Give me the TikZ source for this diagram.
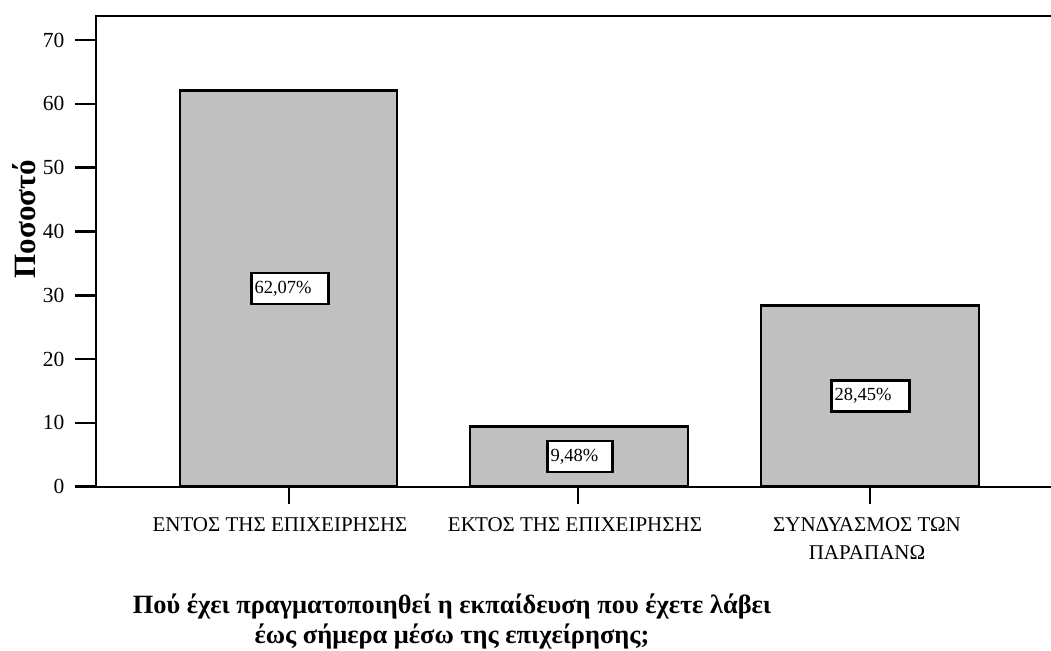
\documentclass[tikz,border=0pt]{standalone}
\usepackage{fontspec}
\setmainfont{Liberation Serif}
\begin{document}
\begin{tikzpicture}[x=1pt,y=-1pt,
  axisline/.style={line width=1.6pt},
  tickline/.style={line width=2.6pt},
  barbox/.style={draw=black,fill=barfill,line width=2.6pt},
  pctbox/.style={draw=black,fill=white,line width=2.6pt,inner xsep=3pt,inner ysep=0pt,align=left,minimum height=31pt,font=\fontsize{18.5}{20}\selectfont},
  ticklab/.style={anchor=east,font=\fontsize{21.5}{24}\selectfont},
  catlab/.style={anchor=base,font=\fontsize{21}{28}\selectfont},
  titlelab/.style={anchor=base,font=\bfseries\fontsize{26.4}{30}\selectfont}]
\definecolor{barfill}{RGB}{192,192,192}
\useasboundingbox (0,0) rectangle (1051,650);
% bars
\draw[barbox] (180,486.7) rectangle (397,90.6);
\draw[barbox] (470,486.7) rectangle (688,426.2);
\draw[barbox] (761,486.7) rectangle (979,305.2);
% frame
\coordinate (tl) at (96,16);
\coordinate (tr) at (1051,16);
\coordinate (bl) at (96,486.7);
\coordinate (br) at (1051,486.7);
\draw[axisline] (tr) -- (tl) -- (bl) -- (br);
% y ticks
\foreach \v in {0,10,...,70}{
  \coordinate (yt\v) at (96,{486.7-6.381*\v});
  \coordinate (ytl\v) at (75,{486.7-6.381*\v});
  \draw[tickline] (ytl\v) -- (yt\v);
  \node[ticklab] (ylab\v) at (68,{486.7-6.381*\v}) {\v};
}
% x ticks
\foreach \x/\n in {289/a,578/b,870/c}{
  \coordinate (xt\n) at (\x,486.7);
  \coordinate (xb\n) at (\x,504);
  \draw[tickline] (xt\n) -- (xb\n);
}
% value labels
\node[pctbox,text width=71pt] (p1) at (290,288.5) {62,07\%};
\node[pctbox,text width=59pt] (p2) at (580,456.5) {9,48\%};
\node[pctbox,text width=72pt] (p3) at (870.5,396) {28,45\%};
% category labels
\node[catlab] (c1) at (280,531) {ΕΝΤΟΣ ΤΗΣ ΕΠΙΧΕΙΡΗΣΗΣ};
\node[catlab] (c2) at (575,531) {ΕΚΤΟΣ ΤΗΣ ΕΠΙΧΕΙΡΗΣΗΣ};
\node[catlab] (c3) at (867,531) {ΣΥΝΔΥΑΣΜΟΣ ΤΩΝ};
\node[catlab] (c3b) at (867,559) {ΠΑΡΑΠΑΝΩ};
% axis titles
\node[rotate=90,font=\bfseries\fontsize{31}{34}\selectfont] (ytitle) at (24,219) {Ποσοστό};
\node[titlelab] (t1) at (452,613) {Πού έχει πραγματοποιηθεί η εκπαίδευση που έχετε λάβει};
\node[titlelab] (t2) at (452,643) {έως σήμερα μέσω της επιχείρησης;};
\end{tikzpicture}
\end{document}
